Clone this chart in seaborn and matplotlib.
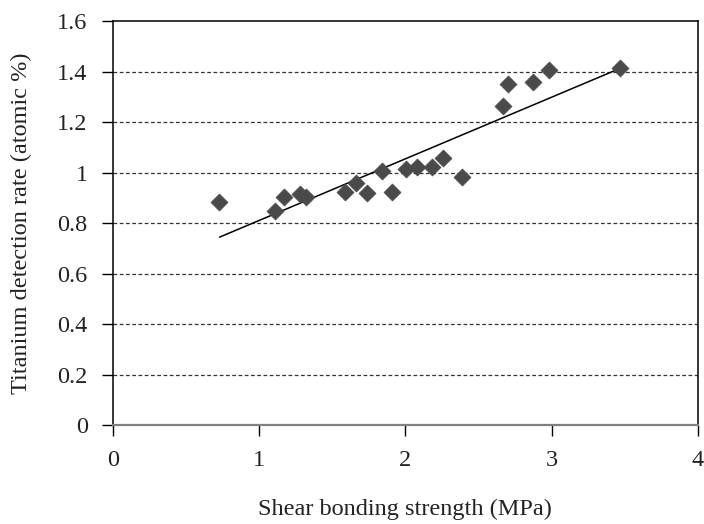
import numpy as np
import pandas as pd
import matplotlib
matplotlib.use("Agg")
import matplotlib.pyplot as plt
import seaborn as sns

# Data
shear_strength = [0.730, 1.110, 1.173, 1.281, 1.322, 1.588, 1.661, 1.736, 1.839, 1.909,
                  2.005, 2.078, 2.184, 2.255, 2.387, 2.669, 2.704, 2.874, 2.982, 3.466]
titanium_rate = [0.884, 0.851, 0.904, 0.916, 0.904, 0.924, 0.959, 0.922, 1.008, 0.926,
                 1.016, 1.023, 1.025, 1.058, 0.983, 1.267, 1.351, 1.362, 1.408, 1.417]
x_ticks = [0, 1, 2, 3, 4]
y_ticks = [0, 0.2, 0.4, 0.6, 0.8, 1, 1.2, 1.4, 1.6]
y_tick_labels = ["0", "0.2", "0.4", "0.6", "0.8", "1", "1.2", "1.4", "1.6"]

df = pd.DataFrame({"x": shear_strength, "y": titanium_rate})

sns.set_theme(style="white")
plt.rcParams["font.family"] = ["Liberation Serif", "DejaVu Serif"]

fig = plt.figure(figsize=(7.04, 5.24), dpi=100)
ax = fig.add_axes([0.160, 0.188, 0.8315, 0.771])

# horizontal dashed grid lines
for yv in y_ticks[1:-1]:
    ax.axhline(yv, color="#333333", lw=0.9, ls=(0, (3, 2)), zorder=0)

sns.regplot(data=df, x="x", y="y", ax=ax, ci=None, scatter=False,
            line_kws={"color": "black", "lw": 1.1, "zorder": 2})
sns.scatterplot(data=df, x="x", y="y", ax=ax, marker="D", s=75,
                color="#4a4a4a", edgecolor="#4a4a4a", linewidth=0.5, zorder=3)

ax.set_xlim(0, 4)
ax.set_ylim(0, 1.6)
ax.set_xticks(x_ticks)
ax.set_xticklabels([str(v) for v in x_ticks])
ax.set_yticks(y_ticks)
ax.set_yticklabels(y_tick_labels)

for side in ["left", "top", "right"]:
    ax.spines[side].set_color("black")
    ax.spines[side].set_linewidth(1.1)
ax.spines["bottom"].set_color("#808080")
ax.spines["bottom"].set_linewidth(1.6)

ax.tick_params(axis="both", direction="out", length=8, width=1.0, color="black",
               labelsize=17.5, labelcolor="#222222", left=True, bottom=True)
ax.tick_params(axis="x", pad=10)
ax.tick_params(axis="y", pad=10)

ax.set_xlabel("Shear bonding strength (MPa)", fontsize=17.5, color="#222222", labelpad=20)
ax.set_ylabel("Titanium detection rate (atomic %)", fontsize=17.5, color="#222222", labelpad=18)

fig.savefig("out.png", dpi=100)
